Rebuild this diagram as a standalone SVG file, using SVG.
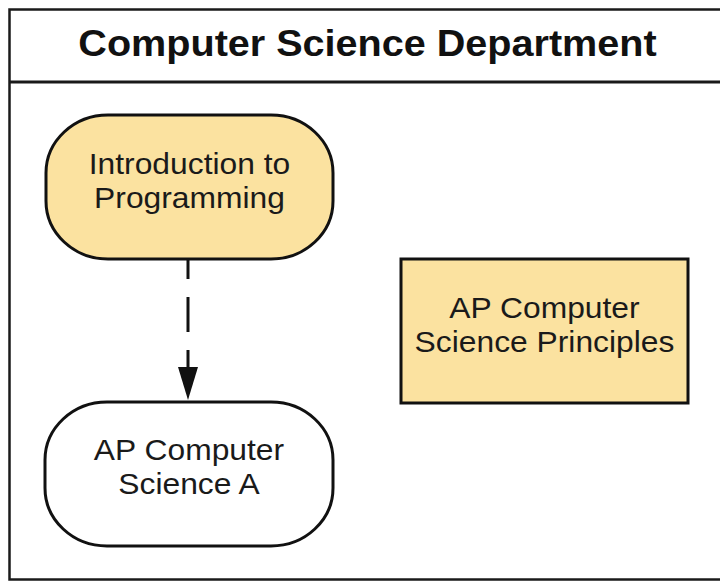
<svg xmlns="http://www.w3.org/2000/svg" width="720" height="581" viewBox="0 0 720 581">
<style>
.frame{fill:#ffffff;stroke:#1a1a1a;stroke-width:2.5}
.node{stroke:#111111;stroke-width:3}
.yellow{fill:#FBE2A0}
.white{fill:#ffffff}
.label{font-family:"Liberation Sans",Arial,sans-serif;font-size:30px;fill:#1a1a1a;text-anchor:middle}
.title{font-family:"Liberation Sans",Arial,sans-serif;font-size:37px;font-weight:bold;fill:#111111;text-anchor:middle}
.conn{stroke:#111111;stroke-width:3;fill:none}
</style>
<rect width="720" height="581" fill="#ffffff"/>
<g id="department">
<rect class="frame" x="9.5" y="9.5" width="716" height="570"/>
<line x1="9.5" y1="82" x2="725" y2="82" stroke="#1a1a1a" stroke-width="3"/>
<text class="title" transform="translate(367.5,56) scale(1.07,1)">Computer Science Department</text>
</g>
<g id="connectors">
<line class="conn" x1="188" y1="259" x2="188" y2="369" stroke-dasharray="35 18" stroke-dashoffset="15"/>
<polygon points="178,367 198,367 188,400" fill="#111111"/>
</g>
<g id="intro">
<rect class="node yellow" x="46" y="115" width="287" height="144" rx="62" ry="58"/>
<text class="label" transform="translate(189.5,174) scale(1.06,1)">Introduction to</text>
<text class="label" transform="translate(189.5,208) scale(1.06,1)">Programming</text>
</g>
<g id="csp">
<rect class="node yellow" x="401" y="259" width="287" height="144"/>
<text class="label" transform="translate(544.5,318) scale(1.06,1)">AP Computer</text>
<text class="label" transform="translate(544.5,352) scale(1.06,1)">Science Principles</text>
</g>
<g id="csa">
<rect class="node white" x="45" y="402" width="288" height="144" rx="62" ry="58"/>
<text class="label" transform="translate(189,460) scale(1.06,1)">AP Computer</text>
<text class="label" transform="translate(189,494) scale(1.06,1)">Science A</text>
</g>
</svg>
